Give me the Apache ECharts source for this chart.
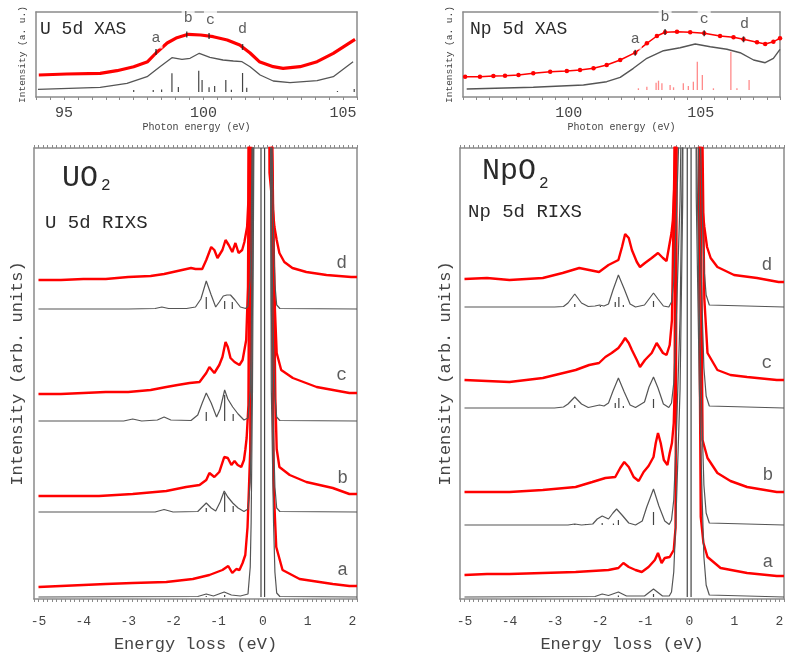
<!DOCTYPE html>
<html><head><meta charset="utf-8">
<script src="https://cdn.jsdelivr.net/npm/echarts@6/dist/echarts.min.js"></script>
<style>html,body{margin:0;padding:0;background:#fff}#c{width:789px;height:660px}</style>
</head><body><div id="c"></div>
<script>
// ---------- XAS (top panels) ----------
const uXasRed = [[94.1,17],[95.1,18],[96.3,18.7],[96.9,21.3],[97.5,25.3],[98.0,30.3],[98.3,39],[98.7,49],[99.05,54.3],[99.45,57.7],[99.9,57],[100.35,55.3],[100.85,52],[101.3,47],[101.67,39],[102.0,30.3],[102.5,25.3],[102.85,23.7],[103.46,25.3],[104.07,30.3],[104.65,38.7],[105.43,52.7]];
const uXasCalc = [[94.07,2.7],[96.3,4.7],[97.26,8.7],[97.98,15.3],[98.44,25.3],[98.87,34.3],[99.23,32.7],[99.52,33.7],[99.85,38.7],[100.23,34.7],[100.7,32],[101.07,31],[101.38,30.3],[101.67,25.3],[102.03,17],[102.5,11],[103.1,9.3],[104.07,11.3],[104.65,15.3],[105.36,30.3]];
const uXasSticks = [[97.5,0,2],[98.2,0,2],[98.5,0,2.5],[98.87,0,18.7],[99.1,0,5],[99.83,0,21.3],[99.95,0,12],[100.2,0,4.7],[100.4,0,6],[100.8,0,12],[101.0,0,2.3],[101.4,0,19],[101.55,0,4.3],[104.8,0,1],[105.4,0,3]];
const uXasMarks = [[98.3,40],[99.4,57.5],[100.2,56],[101.4,45]];
const uXasLabelPos = [[98.3,54],[99.45,74],[100.25,72],[101.4,63]];

const npXasRed = [[96.08,15.3],[96.64,15.3],[97.15,16],[97.59,16.3],[98.1,17],[98.66,18.7],[99.3,20.3],[99.93,21],[100.43,22],[100.94,23.7],[101.44,27],[101.95,32],[102.52,39.3],[102.96,48.7],[103.34,56],[103.65,59.7],[104.1,60.3],[104.6,59.7],[105.13,58.7],[105.73,56],[106.24,54.7],[106.62,52.7],[107.13,49.7],[107.44,48],[107.75,50.3],[108.0,53.7]];
const npXasCalc = [[96.14,3],[98.66,4.7],[100.56,7],[101.44,10.3],[101.95,14.7],[102.45,23.7],[102.96,33.7],[103.59,41.3],[104.22,44.3],[104.79,48],[105.36,45.3],[105.99,42.7],[106.49,39.3],[107.0,32],[107.44,29.3],[107.75,33.7],[108.0,42.7]];
const npXasSticks = [[102.64,2,3.7],[102.96,2,5.3],[103.31,2,9.3],[103.4,2,11.3],[103.53,2,8.7],[103.84,2,7],[103.97,2,4.7],[104.34,2,8.7],[104.53,2,6],[104.72,2,10.3],[104.87,2,30.3],[105.06,2,17],[105.48,2,3.7],[106.14,2,40.3],[106.37,2,3.7],[106.83,2,12]];
const npXasMarks = [[102.52,39.3],[103.65,60],[105.13,58.7],[106.62,52.7]];
const npXasLabelPos = [[102.52,53],[103.65,75],[105.13,73],[106.66,68]];

const xasLetters = ['a','b','c','d'];

// ---------- RIXS UO2 (bottom-left) ----------
const uRedD = [[-5,319],[-4.5,319],[-4.0,320],[-3.5,320],[-3.0,322],[-2.5,323],[-2.2,325],[-2.0,327],[-1.8,329],[-1.6,331],[-1.5,330],[-1.35,330],[-1.26,339],[-1.15,352],[-1.08,349],[-1.01,341],[-0.9,349],[-0.83,359],[-0.76,354],[-0.68,347],[-0.61,356],[-0.54,346],[-0.46,349],[-0.41,357],[-0.35,372],[-0.32,399],[-0.25,900],[-0.15,3000],[0,5000],[0.1,1000],[0.15,426],[0.26,372],[0.31,359],[0.37,346],[0.48,337],[0.66,331],[0.97,327],[1.42,324],[1.97,322],[2.1,322]];
const uCalcD = [[-5,290],[-3.0,290],[-2.4,290.5],[-2.25,292],[-2.1,290.5],[-1.7,290.5],[-1.5,292],[-1.38,300],[-1.26,318],[-1.15,304],[-1.05,292],[-0.97,297],[-0.88,303],[-0.8,304],[-0.72,304],[-0.62,299],[-0.5,292],[-0.38,290.5],[-0.33,293],[-0.28,320],[-0.26,364],[-0.23,497],[-0.18,890],[0,3290],[0.19,497],[0.24,364],[0.27,315],[0.31,294],[0.38,290.5],[2.1,290]];
const uRedC = [[-5,205],[-4.5,205],[-4.0,206],[-3.5,207],[-3.0,207],[-2.5,209],[-2.15,212],[-1.9,214],[-1.63,216],[-1.41,217],[-1.26,226],[-1.19,232],[-1.08,226],[-0.97,234],[-0.9,242],[-0.83,257],[-0.78,252],[-0.72,241],[-0.63,237],[-0.52,234],[-0.45,239],[-0.37,259],[-0.33,312],[-0.25,1000],[-0.1,3000],[0.1,1500],[0.2,450],[0.27,290],[0.31,246],[0.41,229],[0.67,221],[1.2,212],[1.93,206],[2.1,206]];
const uCalcC = [[-5,178],[-3.1,178],[-2.9,180],[-2.7,178],[-2.35,179],[-2.2,182],[-2.05,179],[-1.6,178.5],[-1.45,184],[-1.35,196],[-1.26,206],[-1.15,196],[-1.03,182],[-0.95,190],[-0.85,209],[-0.78,200],[-0.67,192],[-0.55,185],[-0.42,179],[-0.33,181],[-0.28,208],[-0.26,252],[-0.23,385],[-0.18,780],[0,3180],[0.19,385],[0.24,252],[0.27,203],[0.31,182],[0.38,178.5],[2.1,178]];
const uRedB = [[-5,103],[-4.5,103],[-4.0,103],[-3.65,103],[-2.9,105],[-2.15,108],[-1.71,112],[-1.41,114],[-1.26,119],[-1.19,126],[-1.08,122],[-0.97,127],[-0.86,142],[-0.78,141],[-0.7,134],[-0.63,138],[-0.56,134],[-0.48,132],[-0.42,139],[-0.39,149],[-0.36,161],[-0.32,194],[-0.25,900],[-0.1,3000],[0.1,1500],[0.2,500],[0.28,200],[0.31,150],[0.37,132],[0.6,124],[0.97,117],[1.56,111],[1.93,105],[2.1,105]];
const uCalcB = [[-5,87],[-2.4,87],[-2.2,89.5],[-2.0,87],[-1.45,87.5],[-1.35,92],[-1.26,96],[-1.15,91],[-1.05,88],[-0.95,97],[-0.86,108],[-0.78,102],[-0.67,96],[-0.55,91],[-0.42,87.5],[-0.33,90],[-0.28,117],[-0.26,161],[-0.23,294],[-0.18,690],[0,3090],[0.19,294],[0.24,161],[0.27,112],[0.31,91],[0.38,87.5],[2.1,87]];
const uRedA = [[-5,12],[-4.5,13],[-4.0,14],[-3.5,15],[-2.9,16],[-2.15,17],[-1.56,20],[-1.19,24],[-0.9,29],[-0.77,33],[-0.68,26],[-0.59,30],[-0.52,29],[-0.45,36],[-0.39,44],[-0.34,72],[-0.31,109],[-0.28,149],[-0.22,900],[-0.1,3000],[0.1,1500],[0.2,480],[0.24,119],[0.27,82],[0.3,52],[0.44,29],[0.82,20],[1.56,15],[1.93,13],[2.1,13]];
const uCalcA = [[-5,2],[-1.45,2.5],[-1.26,5],[-1.1,3],[-0.86,7],[-0.7,4],[-0.5,3],[-0.33,5],[-0.28,32],[-0.26,76],[-0.23,209],[-0.18,602],[0,3000],[0.19,209],[0.24,76],[0.27,27],[0.31,6],[0.38,2.5],[2.1,2]];
const uSticks = [[-1.26,290,302],[-0.85,290,298],[-0.68,290,297],[-1.26,178,187],[-0.85,178,204],[-0.66,178,185],[-1.26,87,91],[-0.85,87,106],[-0.66,87,93],[-1.26,2,3],[-0.85,2,4],[-0.04,2,451],[0.04,2,451]];
const uLetterPos = [[1.76,336],[1.76,224],[1.78,121],[1.78,29]];

// ---------- RIXS NpO2 (bottom-right) ----------
const npRedD = [[-5,320],[-4.5,321],[-4.0,319],[-3.26,321],[-2.82,326],[-2.45,331],[-2.23,329],[-2.01,327],[-1.8,334],[-1.58,339],[-1.5,352],[-1.43,365],[-1.35,361],[-1.28,349],[-1.17,337],[-1.1,332],[-0.99,336],[-0.84,341],[-0.7,346],[-0.59,341],[-0.51,338],[-0.44,356],[-0.4,366],[-0.37,379],[-0.33,420],[-0.26,1200],[-0.1,3000],[0.1,2000],[0.2,700],[0.25,406],[0.33,372],[0.39,352],[0.47,341],[0.62,332],[0.99,324],[1.5,321],[1.98,317],[2.1,317]];
const npCalcD = [[-5,292],[-3.0,292],[-2.8,292.5],[-2.7,296],[-2.55,305],[-2.4,296],[-2.25,292.5],[-2.1,293],[-2.0,294],[-1.9,293],[-1.8,295],[-1.7,309],[-1.58,324],[-1.45,310],[-1.32,295],[-1.2,292],[-1.0,294],[-0.9,300],[-0.8,306],[-0.7,300],[-0.58,293],[-0.46,292],[-0.4,297],[-0.35,317],[-0.3,372],[-0.25,442],[-0.21,499],[-0.15,692],[0,3292],[0.15,692],[0.22,499],[0.28,392],[0.32,332],[0.37,304],[0.44,294],[2.1,292]];
const npRedC = [[-5,219],[-4.5,218],[-4.0,217],[-3.26,221],[-2.53,229],[-2.23,234],[-2.01,236],[-1.87,242],[-1.73,246],[-1.58,251],[-1.5,256],[-1.43,261],[-1.35,256],[-1.28,249],[-1.17,239],[-1.1,232],[-0.99,239],[-0.84,246],[-0.73,256],[-0.66,251],[-0.59,246],[-0.51,244],[-0.44,254],[-0.39,279],[-0.33,450],[-0.26,1500],[-0.1,3000],[0.1,2000],[0.25,600],[0.33,300],[0.4,246],[0.62,229],[0.91,224],[1.28,222],[1.94,219],[2.1,219]];
const npCalcC = [[-5,191],[-3.0,191],[-2.8,192],[-2.7,195],[-2.55,202],[-2.4,195],[-2.25,191.5],[-2.1,193],[-2.0,194],[-1.9,193],[-1.8,196],[-1.7,208],[-1.58,221],[-1.45,207],[-1.32,194],[-1.2,191.5],[-1.0,197],[-0.9,212],[-0.8,222],[-0.7,211],[-0.58,195],[-0.46,191.5],[-0.4,196],[-0.35,216],[-0.3,271],[-0.25,341],[-0.21,398],[-0.15,591],[0,3191],[0.15,591],[0.22,398],[0.28,291],[0.32,231],[0.37,203],[0.44,193],[2.1,191]];
const npRedB = [[-5,107],[-4.5,107],[-4.0,107],[-3.26,109],[-2.53,112],[-2.16,117],[-1.87,121],[-1.65,122],[-1.54,131],[-1.45,137],[-1.35,132],[-1.24,122],[-1.13,118],[-1.02,127],[-0.91,133],[-0.8,142],[-0.75,156],[-0.7,166],[-0.64,156],[-0.57,139],[-0.49,134],[-0.44,146],[-0.39,156],[-0.35,176],[-0.33,209],[-0.27,1200],[-0.1,3000],[0.1,2000],[0.24,450],[0.29,159],[0.4,141],[0.62,126],[0.91,118],[1.28,112],[1.94,107],[2.1,107]];
const npCalcB = [[-5,74],[-2.7,74],[-2.55,75],[-2.4,74],[-2.15,75],[-2.05,80],[-1.94,83],[-1.8,80],[-1.7,86],[-1.62,90],[-1.5,84],[-1.35,76],[-1.2,74],[-1.05,78],[-0.95,92],[-0.8,110],[-0.68,93],[-0.55,78],[-0.45,74.5],[-0.4,79],[-0.35,99],[-0.3,154],[-0.25,224],[-0.21,281],[-0.15,474],[0,3074],[0.15,474],[0.22,281],[0.28,174],[0.32,114],[0.37,86],[0.44,76],[2.1,74]];
const npRedA = [[-5,24],[-4.5,25],[-4.0,25],[-3.26,26],[-2.53,27],[-1.8,29],[-1.58,31],[-1.47,36],[-1.35,32],[-1.2,29],[-1.06,27],[-0.91,32],[-0.77,39],[-0.7,46],[-0.62,36],[-0.55,41],[-0.44,42],[-0.35,49],[-0.31,71],[-0.25,1000],[-0.1,3000],[0.1,2000],[0.22,300],[0.25,82],[0.31,56],[0.4,42],[0.69,31],[1.28,26],[1.94,23],[2.1,23]];
const npCalcA = [[-5,2],[-2.1,2.5],[-1.94,5],[-1.8,3.5],[-1.58,7],[-1.4,3],[-1.0,3],[-0.8,10],[-0.6,3],[-0.45,3],[-0.4,7],[-0.35,27],[-0.3,82],[-0.25,152],[-0.21,209],[-0.15,402],[0,3002],[0.15,402],[0.22,209],[0.28,102],[0.32,42],[0.37,14],[0.44,4],[2.1,2]];
const npSticks = [[-2.55,292,295],[-1.98,292,293],[-1.65,292,297],[-1.57,292,302],[-1.47,292,294],[-0.8,292,298],[-2.55,191,194],[-1.65,191,196],[-1.57,191,201],[-1.47,191,193],[-0.8,191,200],[-2.55,74,75],[-2.31,74,75],[-1.94,74,76],[-1.69,74,75.5],[-1.58,74,79],[-0.8,74,87],[-1.58,2,3.5],[-0.8,2,5],[-0.05,2,451],[0.035,2,451]];
const npLetterPos = [[1.72,334],[1.72,236],[1.74,124],[1.74,37]];
const rixsLetters = ['d','c','b','a'];

// ---------- styling ----------
const MONO = '"Liberation Mono","DejaVu Sans Mono",monospace';
const FRAME = '#8a8a8a';
const TXT = '#444';
const RED = '#ff0000';
const GREY = '#555';

const grids = [
  {left:36, top:12, width:321, height:85},
  {left:463, top:12, width:317, height:85},
  {left:34, top:148, width:323, height:451},
  {left:460, top:148, width:324, height:451}
];

const isMult = (v, m) => Math.abs(v/m - Math.round(v/m)) < 1e-6;

function xAxesFor(g, min, max, interval, labelEvery, fontSize, margin, name, nameSize, nameGap, topTicks) {
  const line = {show:true, onZero:false, lineStyle:{color:FRAME, width:1.5}};
  return [
    {gridIndex:g, type:'value', position:'bottom', min, max, interval,
     axisLine:line, axisTick:{show:true, length:3, lineStyle:{color:FRAME}},
     axisLabel:{fontFamily:MONO, fontSize, color:TXT, margin,
       formatter: v => isMult(v, labelEvery) ? String(Math.round(v)) : ''},
     splitLine:{show:false},
     name, nameLocation:'middle', nameGap,
     nameTextStyle:{fontFamily:MONO, fontSize:nameSize, color:TXT}},
    {gridIndex:g, type:'value', position:'top', min, max, interval,
     axisLine:line, axisTick:{show:topTicks, length:3, lineStyle:{color:FRAME}},
     axisLabel:{show:false}, splitLine:{show:false}}
  ];
}
function yAxesFor(g, min, max, name, nameSize, nameGap) {
  const line = {show:true, onZero:false, lineStyle:{color:FRAME, width:1.5}};
  return [
    {gridIndex:g, type:'value', position:'left', min, max,
     axisLine:line, axisTick:{show:false}, axisLabel:{show:false}, splitLine:{show:false},
     name, nameLocation:'middle', nameGap, nameRotate:90,
     nameTextStyle:{fontFamily:MONO, fontSize:nameSize, color:TXT}},
    {gridIndex:g, type:'value', position:'right', min, max,
     axisLine:line, axisTick:{show:false}, axisLabel:{show:false}, splitLine:{show:false}}
  ];
}

const xAxis = [].concat(
  xAxesFor(0, 94, 105.5, 0.5, 5, 15, 9, 'Photon energy (eV)', 10, 24, false),
  xAxesFor(1, 96, 108, 0.5, 5, 15, 9, 'Photon energy (eV)', 10, 24, false),
  xAxesFor(2, -5.1, 2.1, 0.1, 1, 13, 16, 'Energy loss (eV)', 17, 37, true),
  xAxesFor(3, -5.1, 2.1, 0.1, 1, 13, 16, 'Energy loss (eV)', 17, 37, true)
);
const yAxis = [].concat(
  yAxesFor(0, -5, 80, 'Intensity (a. u.)', 9.5, 9),
  yAxesFor(1, -5, 80, 'Intensity (a. u.)', 9.5, 9),
  yAxesFor(2, 0, 451, 'Intensity (arb. units)', 17, 8),
  yAxesFor(3, 0, 451, 'Intensity (arb. units)', 17, 6)
);

function lineS(g, data, color, width, sym, symSize, z) {
  return {type:'line', xAxisIndex:2*g, yAxisIndex:2*g, data, clip:true, z:z||2,
    lineStyle:{color, width}, itemStyle:{color},
    symbol: sym ? 'circle' : 'none', symbolSize: symSize||0, showSymbol: !!sym,
    silent:true, animation:false};
}
function stickS(g, data, color, width) {
  return {type:'custom', xAxisIndex:2*g, yAxisIndex:2*g, data, silent:true, z:3,
    encode:{x:0, y:[1,2]},
    renderItem:(params, api) => {
      const p0 = api.coord([api.value(0), api.value(1)]);
      const p1 = api.coord([api.value(0), api.value(2)]);
      return {type:'line', shape:{x1:p0[0], y1:p0[1], x2:p1[0], y2:p1[1]},
              style:{stroke:color, lineWidth:width}};
    }};
}
function markS(g, data) {
  return {type:'scatter', xAxisIndex:2*g, yAxisIndex:2*g, data, symbol:'rect',
    symbolSize:[1.5,6], itemStyle:{color:'#222'}, z:5, silent:true};
}
function letterS(g, pos, letters, size, bg) {
  return {type:'scatter', xAxisIndex:2*g, yAxisIndex:2*g, symbolSize:0, z:6, silent:true,
    data: pos.map((p,i) => ({value:p, label:{formatter:letters[i]}})),
    label:{show:true, position:'inside', fontFamily:MONO, fontSize:size, color:'#333',
      backgroundColor: bg ? '#fff' : 'transparent', padding: bg ? [3,2] : 0}};
}

const series = [
  // XAS UO2
  lineS(0, uXasCalc, GREY, 1.3),
  stickS(0, uXasSticks, '#444', 1.2),
  lineS(0, uXasRed, RED, 3.2),
  markS(0, uXasMarks),
  letterS(0, uXasLabelPos, xasLetters, 15, true),
  // XAS NpO2
  stickS(1, npXasSticks, '#ff8a8a', 1.3),
  lineS(1, npXasCalc, GREY, 1.4),
  lineS(1, npXasRed, RED, 1.5, true, 4.5),
  markS(1, npXasMarks),
  letterS(1, npXasLabelPos, xasLetters, 15, true),
  // RIXS UO2
  lineS(2, uRedD, RED, 2.4), lineS(2, uRedC, RED, 2.4),
  lineS(2, uRedB, RED, 2.4), lineS(2, uRedA, RED, 2.4),
  lineS(2, uCalcD, GREY, 1.2, false, 0, 4), lineS(2, uCalcC, GREY, 1.2, false, 0, 4),
  lineS(2, uCalcB, GREY, 1.2, false, 0, 4), lineS(2, uCalcA, GREY, 1.2, false, 0, 4),
  stickS(2, uSticks, '#444', 1.2),
  letterS(2, uLetterPos, rixsLetters, 18, false),
  // RIXS NpO2
  lineS(3, npRedD, RED, 2.4), lineS(3, npRedC, RED, 2.4),
  lineS(3, npRedB, RED, 2.4), lineS(3, npRedA, RED, 2.4),
  lineS(3, npCalcD, GREY, 1.2, false, 0, 4), lineS(3, npCalcC, GREY, 1.2, false, 0, 4),
  lineS(3, npCalcB, GREY, 1.2, false, 0, 4), lineS(3, npCalcA, GREY, 1.2, false, 0, 4),
  stickS(3, npSticks, '#444', 1.2),
  letterS(3, npLetterPos, rixsLetters, 18, false)
];

const tStyle = (text, size) => ({text, fontFamily:MONO, fontSize:size, fill:'#2a2a2a'});
const graphic = [
  {type:'text', left:40, top:20, style:tStyle('U 5d XAS', 18), z:10},
  {type:'text', left:470, top:20, style:tStyle('Np 5d XAS', 18), z:10},
  {type:'text', left:62, top:163, style:tStyle('UO', 30), z:10},
  {type:'text', left:101, top:178, style:tStyle('2', 16), z:10},
  {type:'text', left:45, top:213, style:tStyle('U 5d RIXS', 19), z:10},
  {type:'text', left:482, top:156, style:tStyle('NpO', 30), z:10},
  {type:'text', left:539, top:176, style:tStyle('2', 16), z:10},
  {type:'text', left:468, top:202, style:tStyle('Np 5d RIXS', 19), z:10}
];

const chart = echarts.init(document.getElementById('c'), null, {renderer:'canvas'});
chart.setOption({animation:false, backgroundColor:'#fff', grid:grids, xAxis, yAxis, series, graphic});
</script>
</body></html>
